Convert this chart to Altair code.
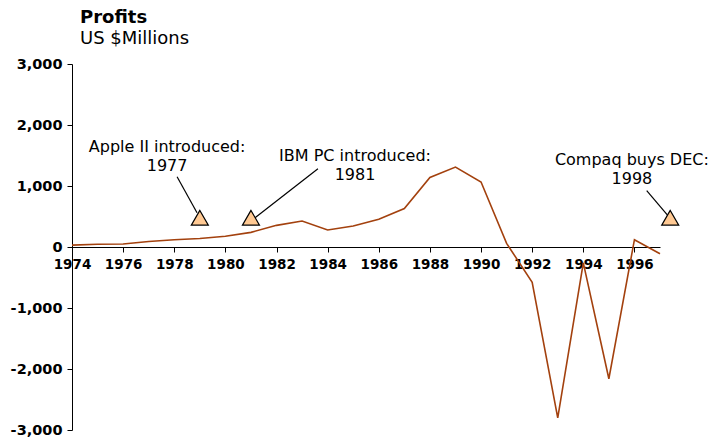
import altair as alt
import pandas as pd

# Annual profits, US $ millions
years = list(range(1974, 1998))
profits = [30, 45, 50, 90, 120, 140, 175, 240, 355, 425, 280, 345,
           455, 630, 1140, 1310, 1065, 60, -580, -2800, -260, -2160, 120, -110]

# Event markers and their callouts
event_labels = ["Apple II introduced:\n1977", "IBM PC introduced:\n1981", "Compaq buys DEC:\n1998"]
marker_x = [1979, 1981, 1997.4]
marker_y = [480, 480, 480]
label_x = [1977.72, 1985.07, 1995.9]
label_y = [1644, 1488, 1423]
leader_x1 = [1978.11, 1983.62, 1996.48]
leader_y1 = [1152, 1284, 923]
leader_x2 = [1978.89, 1981.16, 1997.31]
leader_y2 = [562, 480, 513]

FONT = "DejaVu Sans"
LINE_COLOR = "#A3410E"

profit_df = pd.DataFrame({"year": years, "profit": profits})
events_df = pd.DataFrame({
    "label": event_labels,
    "mx": marker_x, "my": marker_y,
    "lx": label_x, "ly": label_y,
    "x1": leader_x1, "y1": leader_y1, "x2": leader_x2, "y2": leader_y2,
})

x_scale = alt.Scale(domain=[1974, 1997], nice=False, zero=False)
y_scale = alt.Scale(domain=[-3000, 3000], nice=False)

x_axis = alt.Axis(
    values=years, format="d", title=None, orient="bottom", offset=-183,
    labelExpr="datum.value % 2 === 0 ? datum.label : ''",
    labelFont=FONT, labelFontSize=13.5, labelFontWeight="bold", labelColor="black",
    labelPadding=5, tickSize=5, tickColor="black", domainColor="black",
    grid=False, labelFlush=False, labelOverlap=False,
)
y_axis = alt.Axis(
    values=[-3000, -2000, -1000, 0, 1000, 2000, 3000], format=",d", title=None,
    labelExpr="replace(datum.label, '\u2212', '-')",
    labelFont=FONT, labelFontSize=14.5, labelFontWeight="bold", labelColor="black",
    labelPadding=5, tickSize=5, tickColor="black", domainColor="black", grid=False,
)

line = alt.Chart(profit_df).mark_line(color=LINE_COLOR, strokeWidth=1.6).encode(
    x=alt.X("year:Q", scale=x_scale, axis=x_axis),
    y=alt.Y("profit:Q", scale=y_scale, axis=y_axis),
)

leaders = alt.Chart(events_df).mark_rule(color="black", strokeWidth=1.2, clip=False).encode(
    x=alt.X("x1:Q", scale=x_scale), y=alt.Y("y1:Q", scale=y_scale),
    x2="x2:Q", y2="y2:Q",
)

markers = alt.Chart(events_df).mark_point(
    shape="triangle-up", size=289, filled=True, fill="#FFC993",
    stroke="black", strokeWidth=1.2, opacity=1, clip=False,
).encode(
    x=alt.X("mx:Q", scale=x_scale), y=alt.Y("my:Q", scale=y_scale),
)

labels = alt.Chart(events_df).mark_text(
    font=FONT, fontSize=16, align="center", baseline="middle",
    lineBreak="\n", lineHeight=19, color="black", clip=False,
).encode(
    x=alt.X("lx:Q", scale=x_scale), y=alt.Y("ly:Q", scale=y_scale),
    text="label:N",
)

chart = alt.layer(line, leaders, markers, labels).properties(
    width=588, height=366,
    title=alt.Title(
        "Profits", subtitle="US $Millions", anchor="start", frame="group", dx=8,
        font=FONT, fontSize=18, fontWeight="bold", color="black",
        subtitleFont=FONT, subtitleFontSize=18, subtitleColor="black",
        subtitlePadding=3, offset=8,
    ),
    autosize=alt.AutoSizeParams(type="none"),
    padding={"left": 72, "top": 64, "right": 51, "bottom": 8},
).configure(background="white").configure_view(strokeWidth=0)

chart.save("out.html", embed_options={"renderer": "svg", "actions": False})
